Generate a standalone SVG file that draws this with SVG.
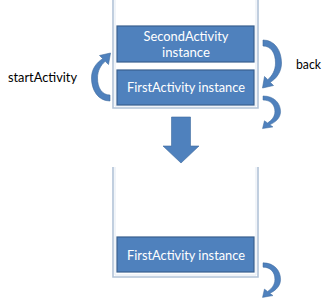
<svg xmlns="http://www.w3.org/2000/svg" width="330" height="300" viewBox="0 0 330 300">
  <style>
    .stack { fill: none; stroke: #B2C3D8; stroke-width: 1.6; }
    .stack-inner { fill: none; stroke: #E3EAF3; stroke-width: 1; }
    .box { fill: #4F81BD; stroke: #395F8E; stroke-width: 1.2; }
    .box-text { font-family: Lato, "Liberation Sans", Arial, sans-serif; font-size: 13px; fill: #FFFFFF; text-anchor: middle; }
    .label { font-family: Lato, "Liberation Sans", Arial, sans-serif; font-size: 13px; fill: #000000; }
    .arrow { fill: #4F81BD; stroke: #3E6A9E; stroke-width: 0.6; }
  </style>
  <defs>
    <!-- curved arrow: tail at origin, bulges right, head pointing down-left -->
    <path id="curl" d="M0,-3 C12,-3 18.5,8 18.5,20 C18.5,29 13.5,35.5 7.2,39.3 L10.5,42.5 L-0.5,45 L1.5,33.5 L4.8,36.7 C9,33 12.5,27.5 12.5,20 C12.5,10 8,3 0,3 Z"/>
  </defs>

  <rect width="330" height="300" fill="#FFFFFF"/>

  <!-- upper stack -->
  <g id="stack-top">
    <path class="stack" d="M113,-1 V108 H258 V-1"/>
    <path class="stack-inner" d="M115,-1 V106 H256 V-1"/>
  </g>
  <g id="second-activity">
    <rect class="box" x="117" y="26" width="137" height="36"/>
    <text class="box-text" x="186" y="41" textLength="85" lengthAdjust="spacingAndGlyphs">SecondActivity</text>
    <text class="box-text" x="186" y="57" textLength="48" lengthAdjust="spacingAndGlyphs">instance</text>
  </g>
  <g id="first-activity-top">
    <rect class="box" x="117" y="70" width="137" height="35"/>
    <text class="box-text" x="186" y="92" textLength="118" lengthAdjust="spacingAndGlyphs">FirstActivity instance</text>
  </g>

  <!-- lower stack -->
  <g id="stack-bottom">
    <path class="stack" d="M113,167 V277 H258 V167"/>
    <path class="stack-inner" d="M115,167 V275 H256 V167"/>
  </g>
  <g id="first-activity-bottom">
    <rect class="box" x="117" y="237" width="137" height="35"/>
    <text class="box-text" x="186" y="260" textLength="118" lengthAdjust="spacingAndGlyphs">FirstActivity instance</text>
  </g>

  <!-- labels -->
  <g id="label-start">
    <text class="label" x="8" y="82" textLength="69" lengthAdjust="spacingAndGlyphs">startActivity</text>
  </g>
  <g id="label-back">
    <text class="label" x="296" y="69" textLength="25" lengthAdjust="spacingAndGlyphs">back</text>
  </g>

  <!-- connectors -->
  <g id="connectors">
    <use href="#curl" class="arrow" transform="translate(110,98) rotate(180)"/>
    <use href="#curl" class="arrow" transform="translate(263,43)"/>
    <use href="#curl" class="arrow" transform="translate(263,98) scale(0.95,0.68)"/>
    <use href="#curl" class="arrow" transform="translate(263,265) scale(0.95,0.72)"/>
    <polygon class="arrow" points="171.5,117 190.5,117 190.5,146 199,146 181,163 163,146 171.5,146"/>
  </g>
</svg>
